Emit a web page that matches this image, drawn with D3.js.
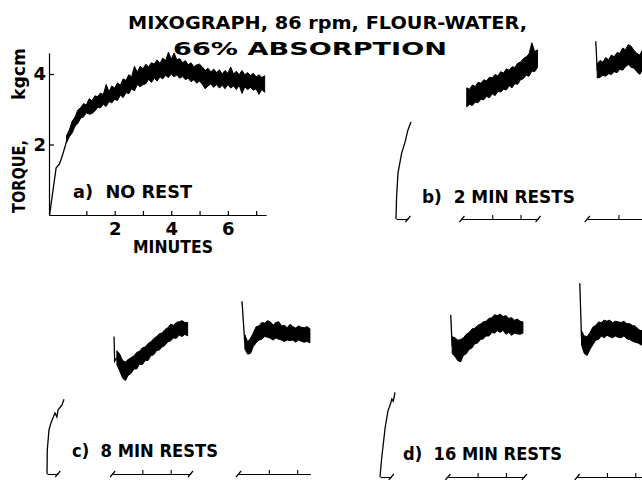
<!DOCTYPE html>
<html>
<head>
<meta charset="utf-8">
<script src="https://cdn.jsdelivr.net/npm/d3@7"></script>
<style>
body { margin: 0; background: #fff; }
text { font-family: "DejaVu Sans", sans-serif; font-weight: bold; fill: #000; }
</style>
</head>
<body>
<div id="chart"></div>
<script>
(function(d3) {

// ---- data (minutes, torque kgcm) ----
var sampleStep = 0.1;

// a) no rest
var aRiseTime   = [-0.3, -0.07, 0.05, 0.14, 0.25, 0.32];
var aRiseTorque = [0, 1.33, 1.45, 1.65, 1.95, 2.15];
var aBandStart = 0.3;
var aLow  = [2.05,2.22,2.33,2.52,2.6,2.75,2.78,2.9,2.86,2.88,
             2.95,3.05,3.04,3.14,3.08,3.22,3.18,3.28,3.25,3.4,
             3.33,3.47,3.44,3.58,3.52,3.7,3.64,3.7,3.72,3.85,
             3.76,3.88,3.8,3.92,3.86,3.96,3.9,4.0,3.92,3.97,
             3.88,3.93,3.84,3.88,3.78,3.84,3.74,3.8,3.7,3.58,
             3.66,3.72,3.62,3.7,3.6,3.68,3.58,3.7,3.6,3.66,
             3.56,3.68,3.45,3.64,3.56,3.62,3.54,3.58,3.42,3.56,3.48];
var aHigh = [2.25,2.42,2.66,2.78,2.98,3.05,3.16,3.12,3.3,3.24,
             3.38,3.36,3.46,3.42,3.7,3.5,3.66,3.6,3.75,3.68,
             3.86,3.82,3.98,3.92,4.22,4.05,4.22,4.15,4.28,4.2,
             4.32,4.28,4.4,4.3,4.45,4.38,4.62,4.42,4.6,4.4,
             4.44,4.32,4.38,4.26,4.32,4.2,4.26,4.28,4.2,4.1,
             4.16,4.06,4.14,4.04,4.12,4.0,4.1,4.02,4.2,4.0,
             4.08,3.98,4.1,3.98,4.04,3.96,4.02,3.92,3.98,3.9,3.95];
var aTicks = [1, 2, 3, 4, 5, 6, 7];

// b) 2 min rests
var bRiseTime   = [0, 0.02, 0.07, 0.2, 0.32, 0.42, 0.53];
var bRiseTorque = [0, 0.62, 1.3, 1.87, 2.18, 2.52, 2.75];
var b2Start = 0.1;
var b2Low  = [3.18,3.25,3.22,3.32,3.3,3.4,3.38,3.48,3.44,3.55,3.5,3.62,3.6,3.68,3.66,3.78,3.72,3.84,3.82,3.95,3.98,4.08,4.05,4.2,4.18,4.3];
var b2High = [3.72,3.68,3.8,3.76,3.88,3.85,3.95,3.92,4.02,4.0,4.1,4.06,4.18,4.14,4.26,4.22,4.32,4.3,4.42,4.45,4.55,4.6,4.68,5.0,4.75,4.8];
var b3SpikeTime = [0.2, 0.25], b3SpikeTorque = [5.04, 4.2];
var b3Start = 0.25;
var b3Low  = [4.0,4.02,4.08,4.05,4.12,4.1,4.18,4.15,4.25,4.22,4.32,4.38,4.3,4.28,4.18,4.1,4.22,4.2,4.24];
var b3High = [4.4,4.5,4.45,4.58,4.52,4.65,4.6,4.72,4.7,4.85,4.8,4.95,4.9,4.78,4.7,4.65,4.8,4.75,4.78];

// c) 8 min rests
var cRiseTime   = [0, 0.01, 0.07, 0.14, 0.21, 0.28, 0.35, 0.39, 0.53, 0.6];
var cRiseTorque = [0, 0.68, 1.25, 1.45, 1.59, 1.73, 1.62, 1.82, 1.96, 2.12];
var c2SpikeTime = [0, 0.02, 0.1], c2SpikeTorque = [3.9, 3.2, 3.3];
var c2Start = 0.1;
var c2Low  = [3.1,2.92,2.72,2.65,2.8,2.85,2.98,2.98,3.12,3.1,3.22,3.22,3.36,3.38,3.5,3.52,3.6,3.65,3.75,3.78,3.86,3.85,3.94,3.9,3.96,3.92];
var c2High = [3.5,3.4,3.22,3.18,3.25,3.3,3.35,3.45,3.48,3.58,3.6,3.7,3.75,3.84,3.9,3.98,4.0,4.1,4.15,4.25,4.22,4.3,4.32,4.35,4.3,4.3];
var c3SpikeTime = [0.05, 0.15], c3SpikeTorque = [4.9, 3.7];
var c3Start = 0.15;
var c3Low  = [3.55,3.4,3.42,3.62,3.72,3.8,3.82,3.9,3.88,3.85,3.8,3.86,3.82,3.8,3.76,3.8,3.78,3.8,3.74,3.8,3.76,3.74,3.76,3.72];
var c3High = [3.95,3.75,3.85,4.0,4.18,4.2,4.3,4.28,4.35,4.32,4.22,4.3,4.32,4.2,4.22,4.15,4.25,4.18,4.14,4.2,4.16,4.15,4.18,4.12];

// d) 16 min rests
var dRiseTime   = [0, 0.06, 0.18, 0.28, 0.38, 0.42, 0.47, 0.53];
var dRiseTorque = [0, 0.54, 1.39, 1.87, 2.1, 2.21, 2.15, 2.4];
var d2SpikeTime = [0.05, 0.1], d2SpikeTorque = [4.6, 3.7];
var d2Start = 0.1;
var d2Low  = [3.5,3.42,3.3,3.27,3.45,3.5,3.62,3.66,3.78,3.8,3.9,3.92,4.0,4.0,4.1,4.08,4.15,4.1,4.16,4.05,4.1,4.02,4.08,4.06,4.05,4.08];
var d2High = [3.98,3.95,3.88,3.9,3.95,4.05,4.1,4.2,4.22,4.3,4.34,4.4,4.42,4.5,4.52,4.6,4.58,4.62,4.55,4.58,4.5,4.52,4.45,4.48,4.42,4.4];
var d3SpikeTime = [0.04, 0.1], d3SpikeTorque = [5.5, 3.95];
var d3Start = 0.1;
var d3Low  = [3.75,3.5,3.45,3.62,3.75,3.88,3.9,4.0,3.95,4.02,3.98,3.95,4.0,3.96,3.95,4.0,3.92,3.9,3.85,3.82,3.8,3.75,3.72];
var d3High = [4.15,4.0,3.98,4.1,4.25,4.3,4.4,4.38,4.45,4.42,4.45,4.38,4.42,4.4,4.38,4.42,4.35,4.35,4.3,4.28,4.2,4.15,4.18];

var segTicks = [1, 2];

// ---- layout ----
var width = 642, height = 480;
var pxPerMin = 28.3, pxPerTorque = 35.25;

var svg = d3.select('#chart')
  .append('svg')
  .attr('width', width)
  .attr('height', height);

svg.append('rect').attr('width', width).attr('height', height).attr('fill', '#fff');

function label(g, str, x, y, len, size, anchor) {
  return g.append('text')
    .attr('x', x).attr('y', y)
    .attr('font-size', size || 18)
    .attr('text-anchor', anchor || 'start')
    .attr('textLength', len)
    .attr('lengthAdjust', 'spacingAndGlyphs')
    .style('white-space', 'pre')
    .text(str);
}

function toBand(start, lo, hi) {
  return lo.map(function(v, i) { return { t: start + i * sampleStep, lo: v, hi: hi[i] }; });
}
function toPts(ts, vs) {
  return ts.map(function(t, i) { return { t: t, v: vs[i] }; });
}

function drawTrace(g, x, y, rise, band) {
  if (rise) {
    g.append('path')
      .datum(rise)
      .attr('d', d3.line().x(function(d) { return x(d.t); }).y(function(d) { return y(d.v); }))
      .attr('fill', 'none').attr('stroke', '#000').attr('stroke-width', 1.3);
  }
  if (band) {
    g.append('path')
      .datum(band)
      .attr('d', d3.area()
        .x(function(d) { return x(d.t); })
        .y0(function(d) { return y(d.lo); })
        .y1(function(d) { return y(d.hi); }))
      .attr('fill', '#000').attr('stroke', '#000').attr('stroke-width', 1);
  }
}

// title
label(svg, 'MIXOGRAPH, 86 rpm, FLOUR-WATER,', 128, 29, 399);
label(svg, '66% ABSORPTION', 173, 55, 274);

// ---- panel a ----
var gA = svg.append('g');
var ax = d3.scaleLinear().domain([-0.32, 7.35]).range([49, 49 + 7.67 * pxPerMin]);
var ay = d3.scaleLinear().domain([0, 4.6]).range([215, 215 - 4.6 * pxPerTorque]);

var xAxisA = gA.append('g')
  .attr('transform', 'translate(0,215)')
  .call(d3.axisBottom(ax).tickValues(aTicks).tickSize(-4).tickSizeOuter(0).tickPadding(7)
    .tickFormat(function(d) { return d % 2 === 0 ? d : ''; }));
var yAxisA = gA.append('g')
  .attr('transform', 'translate(49,0)')
  .call(d3.axisLeft(ay).tickValues([2, 4]).tickSize(-5).tickSizeOuter(0).tickPadding(3)
    .tickFormat(d3.format('d')));

[xAxisA, yAxisA].forEach(function(a) {
  a.selectAll('text').attr('font-size', 18).attr('font-family', null).attr('fill', null);
  a.selectAll('path, line').attr('stroke', '#000').attr('stroke-width', 1.2);
});

drawTrace(gA, ax, ay, toPts(aRiseTime, aRiseTorque), toBand(aBandStart, aLow, aHigh));

label(gA, 'MINUTES', 133, 253, 80, 17);
label(gA, 'a)  NO REST', 73, 198, 119);

gA.append('text').attr('transform', 'translate(25,213) rotate(-90)')
  .attr('font-size', 18).attr('textLength', 73).attr('lengthAdjust', 'spacingAndGlyphs')
  .text('TORQUE,');
gA.append('text').attr('transform', 'translate(25,100) rotate(-90)')
  .attr('font-size', 18).attr('textLength', 52).attr('lengthAdjust', 'spacingAndGlyphs')
  .text('kgcm');

// ---- panels b, c, d (mixing interrupted by rests) ----
var panels = [
  { text: 'b)  2 MIN RESTS', tx: 422, ty: 203, tw: 153, x0: 396, base: 219, offsets: [0, 2.4, 6.86],
    segs: [
      { axis: [0, 0.42], startSlash: false, endSlash: true, rise: toPts(bRiseTime, bRiseTorque) },
      { axis: [-0.07, 2.62], startSlash: true, endSlash: true, band: toBand(b2Start, b2Low, b2High) },
      { axis: [-0.1, 2.6], startSlash: true, endSlash: false, rise: toPts(b3SpikeTime, b3SpikeTorque), band: toBand(b3Start, b3Low, b3High) }
    ] },
  { text: 'c)  8 MIN RESTS', tx: 72, ty: 457, tw: 146, x0: 47, base: 474, offsets: [0, 2.37, 6.84],
    segs: [
      { axis: [0, 0.38], startSlash: false, endSlash: true, rise: toPts(cRiseTime, cRiseTorque) },
      { axis: [-0.05, 2.7], startSlash: true, endSlash: true, rise: toPts(c2SpikeTime, c2SpikeTorque), band: toBand(c2Start, c2Low, c2High) },
      { axis: [-0.07, 2.47], startSlash: true, endSlash: false, rise: toPts(c3SpikeTime, c3SpikeTorque), band: toBand(c3Start, c3Low, c3High) }
    ] },
  { text: 'd)  16 MIN RESTS', tx: 403, ty: 460, tw: 159, x0: 380, base: 477, offsets: [0, 2.45, 7.02],
    segs: [
      { axis: [0, 0.4], startSlash: false, endSlash: true, rise: toPts(dRiseTime, dRiseTorque) },
      { axis: [-0.05, 2.65], startSlash: true, endSlash: true, rise: toPts(d2SpikeTime, d2SpikeTorque), band: toBand(d2Start, d2Low, d2High) },
      { axis: [-0.05, 2.6], startSlash: true, endSlash: false, rise: toPts(d3SpikeTime, d3SpikeTorque), band: toBand(d3Start, d3Low, d3High) }
    ] }
];

panels.forEach(function(p) {
  var g = svg.append('g');
  var y = d3.scaleLinear().domain([0, 5.6]).range([p.base, p.base - 5.6 * pxPerTorque]);

  p.segs.forEach(function(s, i) {
    var zero = p.x0 + p.offsets[i] * pxPerMin;
    var x = d3.scaleLinear().domain(s.axis)
      .range([zero + s.axis[0] * pxPerMin, zero + s.axis[1] * pxPerMin]);

    var axisG = g.append('g')
      .attr('transform', 'translate(0,' + p.base + ')')
      .call(d3.axisBottom(x)
        .tickValues(segTicks.filter(function(t) { return t < s.axis[1]; }))
        .tickSize(-4).tickSizeOuter(0).tickFormat(''));
    axisG.selectAll('path, line').attr('stroke', '#000').attr('stroke-width', 1.1);

    var ends = [];
    if (s.startSlash) ends.push(s.axis[0]);
    if (s.endSlash) ends.push(s.axis[1]);
    g.selectAll(null)
      .data(ends)
      .enter()
      .append('line')
      .attr('x1', function(d) { return x(d) - 2.5; })
      .attr('x2', function(d) { return x(d) + 2.5; })
      .attr('y1', p.base + 3)
      .attr('y2', p.base - 3)
      .attr('stroke', '#000').attr('stroke-width', 1.2);

    drawTrace(g, x, y, s.rise, s.band);
  });

  label(g, p.text, p.tx, p.ty, p.tw);
});

})(window.d3);
</script>
</body>
</html>
